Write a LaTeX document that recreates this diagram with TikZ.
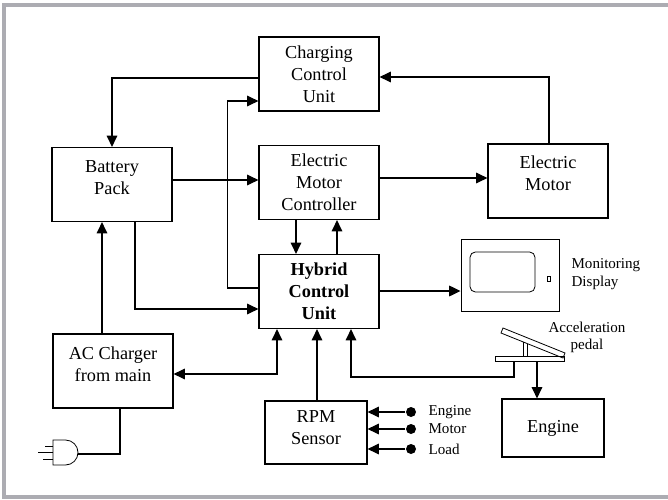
\documentclass[tikz,border=0pt]{standalone}
\usepackage{fontspec}
\setmainfont{Liberation Serif}
\usetikzlibrary{arrows.meta,positioning,calc}
\definecolor{framegray}{RGB}{172,172,178}
\tikzset{>={Triangle[length=8.5pt,width=8pt]}}
\tikzset{
  blk/.style={draw,line width=0.9pt,align=center,inner sep=0pt,
    minimum width=90pt,minimum height=55.5pt,
    font=\fontsize{13.7}{16.5}\selectfont},
  lbl/.style={inner sep=0pt,align=center,font=\fontsize{11.3}{13.2}\selectfont},
  dot/.style={circle,fill,inner sep=0pt,minimum size=7.5pt},
  part/.style={line width=0.6pt}
}

\begin{document}
\begin{tikzpicture}[x=0.75pt,y=-0.75pt,line width=0.9pt]
\useasboundingbox (0,0) rectangle (668,500);

% frame
\fill[framegray] (2,3) rectangle (668,7);
\fill[framegray] (2,3) rectangle (6,499);
\fill[framegray] (2,495) rectangle (668,499);

% blocks
\node[blk] (ccu) at (319,74) {Charging\\Control\\Unit};
\node[blk] (bat) at (112,184.5) {Battery\\Pack\\[-6pt]~};
\node[blk] (emc) at (319,182.5) {Electric\\Motor\\Controller};
\node[blk] (em) at (548,181) {Electric\\Motor\\[-4.5pt]~};
\node[blk,font=\fontsize{13.7}{16.5}\selectfont\bfseries] (hcu) at (319,291.5) {Hybrid\\Control\\Unit};
\node[blk] (acc) at (113,371) {AC Charger\\from main\\[-6pt]~};
\node[blk,minimum width=76.5pt,minimum height=47.25pt] (rpm) at (316,432.5) {RPM\\Sensor\\[-8.5pt]~};
\node[blk,minimum width=76.5pt,minimum height=43.5pt] (eng) at (553,428) {Engine};

% monitoring display
\node[draw,line width=0.7pt,minimum width=73.5pt,minimum height=54pt] (mon) at (510,275) {};
\draw[part,rounded corners=4pt] (470,252) rectangle (535,292);
\draw[line width=0.5pt] (547,276) rectangle (550,281);
\node[lbl,anchor=west,align=left] (monl) at (571,274) {Monitoring\\Display};

% acceleration pedal
\draw[part] (495,356) rectangle (564,361);
\draw[part] (523,342) -- (523,356) (527,343.5) -- (527,356);
\draw[part] (503,328) -- (565,353) -- (563,358) -- (501,333) -- cycle;
\node[lbl] (pedl) at (587,337.5) {Acceleration\\pedal};
\coordinate (pb) at (514,361);
\coordinate (pe) at (537,361);

% plug
\coordinate (plug) at (78,454);
\draw[part] (53,440) -- (65.5,440) arc[start angle=-90,end angle=90,radius=12.5] -- (53,465) -- cycle;
\draw[part] (53,446.5) -- (45,446.5) (53,452.5) -- (38,452.5) (53,459.5) -- (43,459.5);

% connectors
\draw[->] ([yshift=-3pt]ccu.west) -| (bat.north);
\draw[->] (hcu.west |- 0,288) -- ++(-31,0) |- (ccu.west |- 0,101);
\draw[->] (bat.east |- 0,180) -- (emc.west |- 0,180);
\draw[->] (bat.south -| 135,0) |- (hcu.west |- 0,309);
\draw[->] (acc.north -| 102,0) -- (bat.south -| 102,0);
\draw[<->] (acc.east |- 0,374) -| (hcu.south -| 277,0);
\draw[->] (rpm.north -| 317,0) -- (hcu.south -| 317,0);
\draw[->] (pb) -- ++(0,16) -| (hcu.south -| 351,0);
\draw[->] (pe) -- (eng.north -| pe);
\draw[->] (emc.east |- 0,178) -- (em.west |- 0,178);
\draw[->] (em.north -| 549,0) |- (ccu.east |- 0,77);
\draw[->] (emc.south -| 296,0) -- (hcu.north -| 296,0);
\draw[->] (hcu.north -| 337,0) -- (emc.south -| 337,0);
\draw[->] (hcu.east |- 0,291) -- (mon.west |- 0,291);
\draw (acc.south -| 120,0) |- (plug);

% rpm inputs
\foreach \n/\y/\t in {1/412/Engine,2/429/Motor,3/449/Load} {
  \node[dot] (in\n) at (411,\y) {};
  \node[lbl,anchor=west] (t\n) at (428,\y) {\t};
  \draw[->] (in\n) -- (rpm.east |- in\n);
}
\end{tikzpicture}
\end{document}
